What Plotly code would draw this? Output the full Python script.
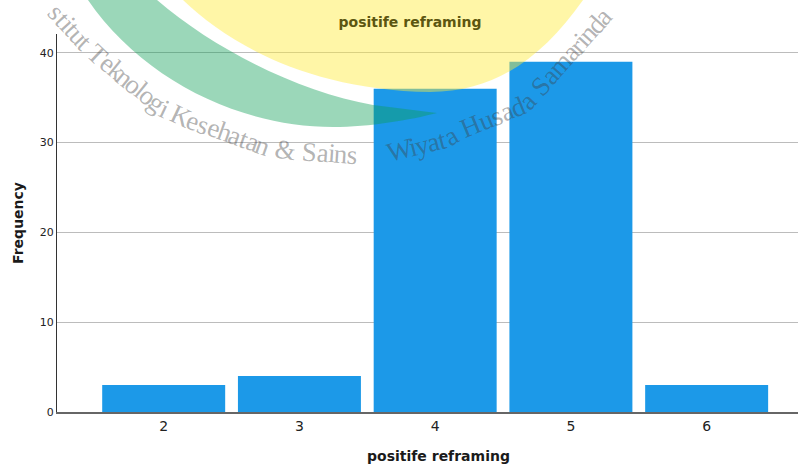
import math
import plotly.graph_objects as go

categories = [2, 3, 4, 5, 6]
frequency = [3, 4, 36, 39, 3]
x_title = "positife reframing"
y_title = "Frequency"
y_ticks = [0, 10, 20, 30, 40]
watermark_left = "Institut Teknologi Kesehatan & Sains"
watermark_right = "Wiyata Husada Samarinda"

W, H = 798, 468
L, R, T, B = 57, 798, 34, 412


def px(x):
    return (x - L) / (R - L)


def py(y):
    return (B - y) / (B - T)


def char_w(c):
    if c in "ijltfrI ":
        return 0.30
    if c in "mWH&":
        return 0.85
    if c in "TKS":
        return 0.62
    return 0.48


def along(text, pts, size, color):
    seg = [math.dist(pts[i], pts[i + 1]) for i in range(len(pts) - 1)]
    total = sum(seg)
    widths = [char_w(c) for c in text]
    scale = total / sum(widths)
    out = []
    pos = 0.0
    for c, w in zip(text, widths):
        mid = pos + w * scale / 2
        pos += w * scale
        d, i = mid, 0
        while i < len(seg) - 1 and d > seg[i]:
            d -= seg[i]
            i += 1
        t = d / seg[i]
        x = pts[i][0] + t * (pts[i + 1][0] - pts[i][0])
        y = pts[i][1] + t * (pts[i + 1][1] - pts[i][1])
        ang = math.degrees(math.atan2(pts[i + 1][1] - pts[i][1], pts[i + 1][0] - pts[i][0]))
        if c == " " or y < 8:
            continue
        out.append(dict(text=c, x=px(x), y=py(y), xref="paper", yref="paper", showarrow=False,
                        textangle=ang, xanchor="center", yanchor="middle",
                        font=dict(family="Liberation Serif", size=size, color=color)))
    return out


def path(cmds):
    parts = []
    for c in cmds:
        if isinstance(c, str):
            parts.append(c)
        else:
            parts.append(f"{px(c[0]):.4f},{py(c[1]):.4f}")
    return " ".join(parts)


yellow = path(["M", (183, 0), "C", (230, 45), (310, 90), (430, 92), "C", (495, 92), (542, 58), (583, 0), "Z"])
green = path(["M", (88, 0), "C", (143, 80), (240, 127), (333, 127), "C", (370, 127), (410, 120), (437, 113),
              "C", (415, 110), (395, 108), (373, 105), "C", (300, 92), (215, 50), (157, 0), "Z"])

left_pts = [(41, -6), (50, 5), (82, 40), (100, 57), (163, 108), (182, 117), (267, 147), (287, 150), (358, 155)]
right_pts = [(390, 153), (448, 138), (460, 131), (523, 105), (538, 89), (607, 12)]
wm_color = "rgba(60,60,60,0.4)"

axis_titles = [
    dict(text=f"<b>{x_title}</b>", x=px(438), y=py(456), xref="paper", yref="paper", showarrow=False,
         xanchor="center", yanchor="middle", font=dict(size=14, color="#1a1a1a")),
]

fig = go.Figure(go.Bar(x=categories, y=frequency, marker=dict(color="#1c99e8", line=dict(width=0)), width=0.906))
fig.update_layout(
    width=W, height=H, margin=dict(l=L, r=W - R, t=T, b=H - B),
    paper_bgcolor="white", plot_bgcolor="white", showlegend=False,
    font=dict(family="DejaVu Sans", color="#222222"),
    title=dict(text="<b>positife reframing</b>", x=410 / W, xref="container", xanchor="center",
               y=1 - 22 / H, yanchor="middle", font=dict(size=14, color="#5c5610")),
    shapes=[
        dict(type="path", path=green, xref="paper", yref="paper", layer="above", line_width=0,
             fillcolor="rgba(12,158,85,0.41)"),
        dict(type="path", path=yellow, xref="paper", yref="paper", layer="above", line_width=0,
             fillcolor="rgba(255,235,60,0.45)"),
    ],
    annotations=along(watermark_left, left_pts, 27, wm_color) + along(watermark_right, right_pts, 27, wm_color) + axis_titles,
)
fig.update_xaxes(range=[1.214, 6.673], tickvals=categories, ticks="", showgrid=False, zeroline=False,
                 showline=True, linecolor="#666666", linewidth=2, tickfont=dict(size=14, color="#222222"))
fig.update_yaxes(range=[0, 42.1], tickvals=y_ticks, ticks="", showgrid=True, gridcolor="#bcbcbc", gridwidth=1,
                 zeroline=False, showline=True, linecolor="#333333", linewidth=1,
                 tickfont=dict(size=11, color="#222222"),
                 title=dict(text=f"<b>{y_title}</b>", font=dict(size=14, color="#1a1a1a"), standoff=12))
fig.write_html("out.html", config=dict(displayModeBar=False),
               post_script="document.body.style.margin='0';")
